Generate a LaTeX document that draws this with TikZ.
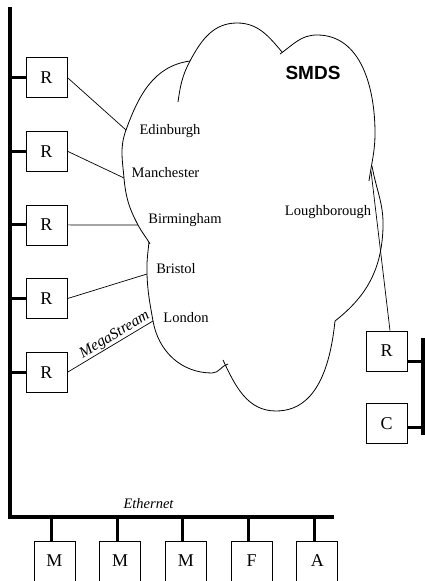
\documentclass[tikz,border=0pt]{standalone}
\usepackage{fontspec}
\setmainfont{Liberation Serif}
\setsansfont{Liberation Sans}
\usetikzlibrary{positioning}

\begin{document}
\begin{tikzpicture}[
    x=1pt, y=1pt,
    node distance=33pt,
    every node/.style={font=\fontsize{14.5}{16}\selectfont},
    unit/.style={
      draw, line width=0.7pt,
      minimum width=41pt, minimum height=40pt,
      inner sep=0pt,
      font=\fontsize{18}{20}\selectfont,
    },
    bus/.style={line width=3.6pt, line join=miter},
    drop/.style={line width=3pt},
    link/.style={line width=0.7pt},
    cloud/.style={line width=0.8pt},
    site/.style={inner sep=0pt},
  ]
  \useasboundingbox (0,0) rectangle (424,581);

  % ethernet backbone
  \coordinate (ltop) at (10,574);
  \coordinate (lcorner) at (10,64);
  \coordinate (lend) at (334,64);
  \draw[bus] (ltop) -- (lcorner) -- (lend);
  \node[site, font=\fontsize{14.5}{16}\selectfont\itshape] (ethernet) at (148.5,77) {Ethernet};

  % routers on the left
  \node[unit] (r1) at (46.5,503.5) {R};
  \node[unit, below=of r1] (r2) {R};
  \node[unit, below=of r2] (r3) {R};
  \node[unit, below=of r3] (r4) {R};
  \node[unit, below=of r4] (r5) {R};
  \foreach \r in {r1,r2,r3,r4,r5}
    \draw[drop] (\r.west) -- (\r.west -| ltop);

  % machines on the bottom
  \node[unit] (m1) at (54.5,20) {M};
  \node[unit, right=24pt of m1] (m2) {M};
  \node[unit, right=24pt of m2] (m3) {M};
  \node[unit, right=24pt of m3] (fs) {F};
  \node[unit, right=24pt of fs] (as) {A};
  \foreach \m in {m1,m2,m3,fs,as}
    \draw[drop] ([xshift=-3pt]\m.north) -- ([xshift=-3pt]\m.north |- lend);

  % remote site
  \coordinate (rtop) at (423,243);
  \coordinate (rbot) at (423,146);
  \draw[bus] (rtop) -- (rbot);
  \node[unit] (rr) at (386.5,230) {R};
  \node[unit, below=32pt of rr] (cc) {C};
  \draw[drop] ([yshift=-11pt]rr.east) -- ([yshift=-11pt]rr.east -| rtop);
  \draw[drop] ([yshift=-4pt]cc.east) -- ([yshift=-4pt]cc.east -| rtop);

  % cloud
  \coordinate (edi) at (126,451);
  \coordinate (man) at (124,403);
  \coordinate (bir) at (138,356);
  \coordinate (bri) at (147,307);
  \coordinate (lon) at (153,260);
  \coordinate (lou) at (371,410);
  \coordinate (ca) at (190,520);
  \coordinate (cb) at (150,337);
  \coordinate (cd) at (335,260);
  \coordinate (ce) at (372,415);
  \coordinate (cf) at (280,527);

  \draw[cloud] (ca) to[out=188,in=70] (edi) to[out=-110,in=95] (man)
    to[out=-85,in=118] (bir) to[out=-62,in=120] (cb);
  \draw[cloud] (149,339) to[out=-96,in=92] (bri) to[out=-88,in=100] (lon)
    to[out=-80,in=180] (212,208) to[out=0,in=195] (228,217);
  \draw[cloud] (223,221) to[out=-65,in=180] (276,170) to[out=0,in=-96] (cd);
  \draw[cloud] (cd) to[out=38,in=-92] (383,353) to[out=88,in=-80] (ce);
  \draw[cloud] (369,400) to[out=82,in=-90] (375,448) to[out=90,in=0] (317,546)
    to[out=180,in=35] (cf);
  \draw[cloud] (282,529) to[out=130,in=0] (237,558) to[out=180,in=62] (ca)
    to[out=-118,in=82] (178,479);

  \node[site, font=\fontsize{19}{21}\selectfont\sffamily\bfseries] (smds) at (313,508) {SMDS};
  \node[site] (edinburgh) at (170,450) {Edinburgh};
  \node[site] (manchester) at (165.5,408) {Manchester};
  \node[site] (birmingham) at (185,361) {Birmingham};
  \node[site] (bristol) at (176,312) {Bristol};
  \node[site] (london) at (186,263.5) {London};
  \node[site] (loughborough) at (328,369) {Loughborough};

  % links into the cloud
  \draw[link] (r1.east) -- (edi);
  \draw[link] (r2.east) -- (man);
  \draw[link] (r3.east) -- (bir);
  \draw[link] (r4.east) -- (bri);
  \draw[link] (r5.east) -- node[pos=0.6, sloped, above, inner sep=0.5pt,
    font=\fontsize{15.5}{17}\selectfont\itshape] (megastream) {MegaStream} (lon);
  \draw[link] ([xshift=3.5pt]rr.north) -- (lou);
\end{tikzpicture}
\end{document}
